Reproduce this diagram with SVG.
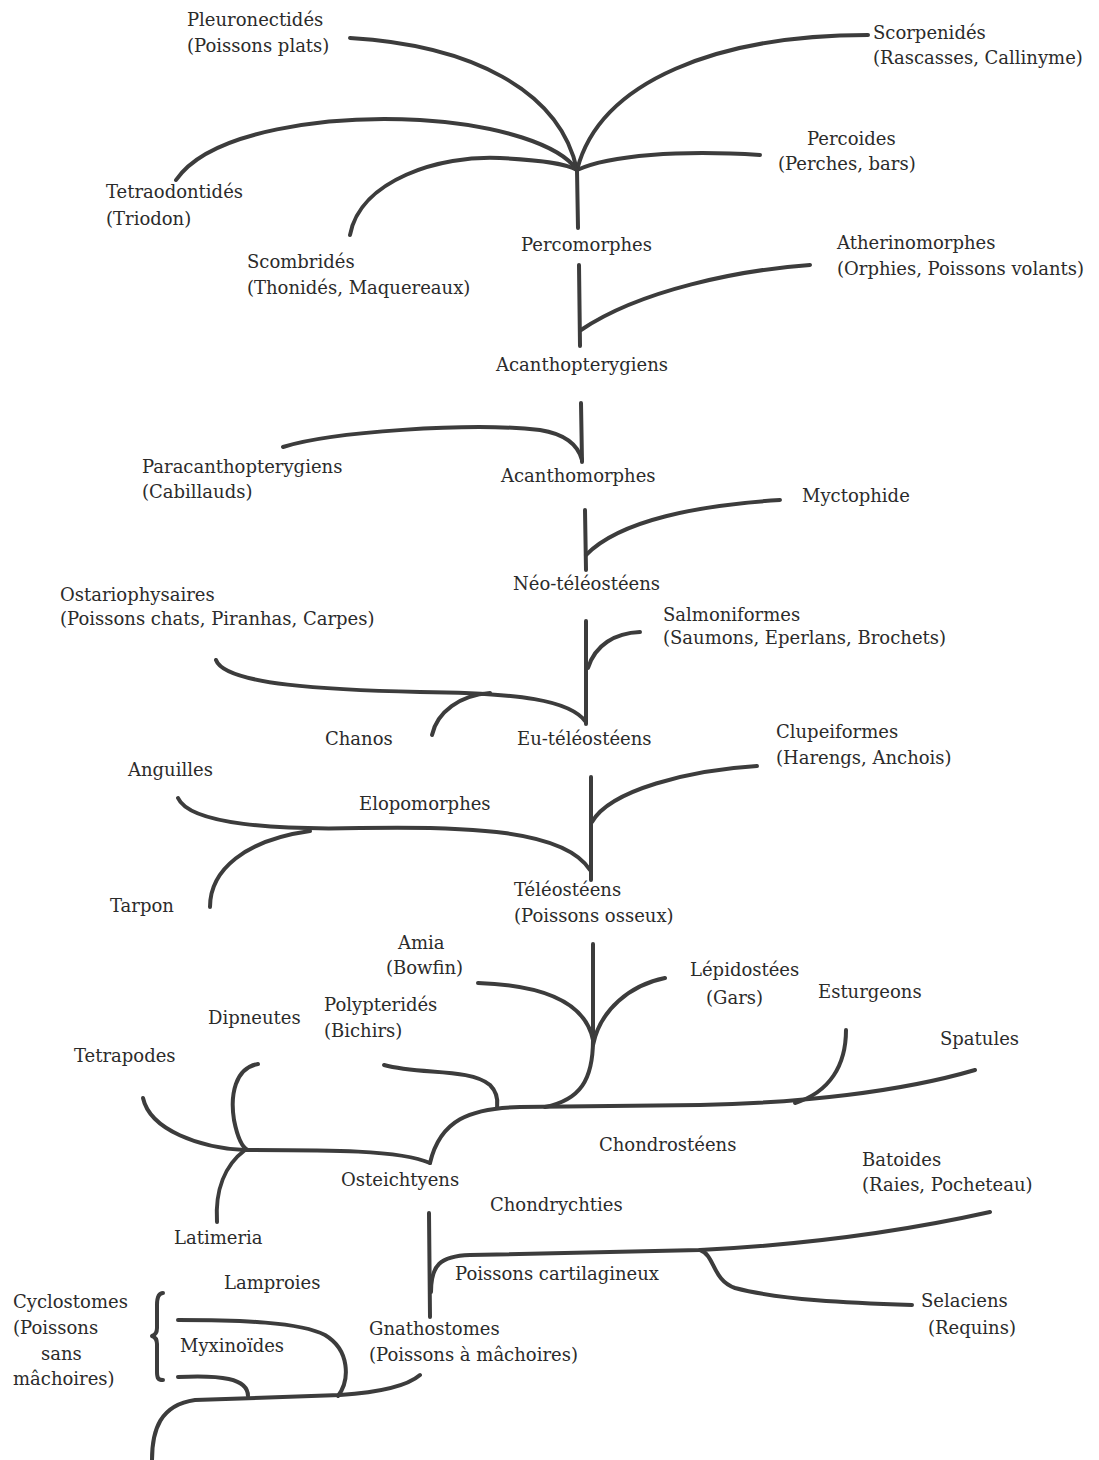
<svg xmlns="http://www.w3.org/2000/svg" width="1099" height="1460" viewBox="0 0 1099 1460">
<style>
text{font-family:"DejaVu Serif","Liberation Serif",serif;font-size:18px;fill:#2b2b2b}
.e{fill:none;stroke:#3c3c3c;stroke-width:4;stroke-linecap:round;stroke-linejoin:round}
</style>
<rect width="1099" height="1460" fill="#fff"/>
<g id="connectors">
<path class="e" d="M350,38 C470,45 560,90 577,170"/>
<path class="e" d="M577,170 C600,80 720,35 868,35"/>
<path class="e" d="M176,180 C210,130 330,115 420,120 C500,125 560,145 577,170"/>
<path class="e" d="M577,170 C610,155 680,150 760,155"/>
<path class="e" d="M350,235 C360,180 440,155 500,158 C540,160 565,163 577,170"/>
<path class="e" d="M577,170 L578,228"/>
<path class="e" d="M579,265 L580,346"/>
<path class="e" d="M581,330 C640,290 740,270 810,265"/>
<path class="e" d="M581,403 L582,462"/>
<path class="e" d="M283,447 C330,432 470,422 540,430 C565,434 578,445 582,460"/>
<path class="e" d="M585,510 L586,570"/>
<path class="e" d="M586,555 C620,520 700,505 780,500"/>
<path class="e" d="M586,621 L586,724"/>
<path class="e" d="M588,668 C595,645 615,633 640,632"/>
<path class="e" d="M216,660 C225,685 330,690 420,692 C520,693 570,700 586,722"/>
<path class="e" d="M432,735 C437,712 460,695 490,693"/>
<path class="e" d="M591,777 L591,880"/>
<path class="e" d="M592,822 C610,790 690,770 757,766"/>
<path class="e" d="M178,798 C190,825 280,830 360,828 C470,826 565,830 590,870"/>
<path class="e" d="M210,907 C210,870 245,840 310,831"/>
<path class="e" d="M593,944 L593,1040 C593,1080 580,1100 545,1107"/>
<path class="e" d="M478,983 C540,985 585,1000 593,1040"/>
<path class="e" d="M593,1045 C600,1010 630,985 665,978"/>
<path class="e" d="M430,1163 C440,1120 470,1108 520,1107 L700,1105 C800,1103 900,1092 975,1070"/>
<path class="e" d="M846,1030 C846,1065 830,1092 795,1103"/>
<path class="e" d="M384,1065 C420,1075 470,1068 490,1085 C500,1095 497,1105 497,1108"/>
<path class="e" d="M430,1163 C400,1150 330,1150 245,1150"/>
<path class="e" d="M143,1098 C150,1130 200,1148 245,1150"/>
<path class="e" d="M258,1064 C235,1068 230,1095 234,1120 C238,1140 243,1148 248,1150"/>
<path class="e" d="M245,1150 C225,1165 215,1190 217,1222"/>
<path class="e" d="M429,1213 L430,1317"/>
<path class="e" d="M431,1292 C431,1265 440,1256 470,1255 L700,1250 C800,1245 900,1232 990,1212"/>
<path class="e" d="M700,1250 C715,1255 712,1280 735,1288 C780,1300 850,1303 912,1305"/>
<path class="e" d="M163,1293 C158,1293 157,1298 157,1305 L157,1328 C157,1333 155,1335 152,1336 C155,1337 157,1339 157,1344 L157,1372 C157,1378 158,1380 163,1380"/>
<path class="e" d="M178,1320 C240,1320 300,1322 325,1335 C350,1350 350,1380 338,1396"/>
<path class="e" d="M178,1377 C220,1375 248,1378 248,1396"/>
<path class="e" d="M152,1460 C152,1430 160,1405 195,1400 L340,1395 C370,1393 405,1388 420,1375"/>
</g>
<g id="n-pleuronectides"><text x="187" y="26">Pleuronectidés</text><text x="187" y="52">(Poissons plats)</text></g>
<g id="n-scorpenides"><text x="873" y="39">Scorpenidés</text><text x="873" y="64">(Rascasses, Callinyme)</text></g>
<g id="n-percoides"><text x="807" y="145">Percoides</text><text x="778" y="170">(Perches, bars)</text></g>
<g id="n-tetraodontides"><text x="106" y="198">Tetraodontidés</text><text x="106" y="225">(Triodon)</text></g>
<g id="n-scombrides"><text x="247" y="268">Scombridés</text><text x="247" y="294">(Thonidés, Maquereaux)</text></g>
<g id="n-percomorphes"><text x="521" y="251">Percomorphes</text></g>
<g id="n-atherinomorphes"><text x="837" y="249">Atherinomorphes</text><text x="837" y="275">(Orphies, Poissons volants)</text></g>
<g id="n-acanthopterygiens"><text x="496" y="371">Acanthopterygiens</text></g>
<g id="n-paracanthopterygiens"><text x="142" y="473">Paracanthopterygiens</text><text x="142" y="498">(Cabillauds)</text></g>
<g id="n-acanthomorphes"><text x="501" y="482">Acanthomorphes</text></g>
<g id="n-myctophide"><text x="802" y="502">Myctophide</text></g>
<g id="n-neoteleosteens"><text x="513" y="590">Néo-téléostéens</text></g>
<g id="n-ostariophysaires"><text x="60" y="601">Ostariophysaires</text><text x="60" y="625">(Poissons chats, Piranhas, Carpes)</text></g>
<g id="n-salmoniformes"><text x="663" y="621">Salmoniformes</text><text x="663" y="644">(Saumons, Eperlans, Brochets)</text></g>
<g id="n-chanos"><text x="325" y="745">Chanos</text></g>
<g id="n-euteleosteens"><text x="517" y="745">Eu-téléostéens</text></g>
<g id="n-clupeiformes"><text x="776" y="738">Clupeiformes</text><text x="776" y="764">(Harengs, Anchois)</text></g>
<g id="n-anguilles"><text x="128" y="776">Anguilles</text></g>
<g id="n-elopomorphes"><text x="359" y="810">Elopomorphes</text></g>
<g id="n-teleosteens"><text x="514" y="896">Téléostéens</text><text x="514" y="922">(Poissons osseux)</text></g>
<g id="n-tarpon"><text x="110" y="912">Tarpon</text></g>
<g id="n-amia"><text x="398" y="949">Amia</text><text x="386" y="974">(Bowfin)</text></g>
<g id="n-lepidostees"><text x="690" y="976">Lépidostées</text><text x="706" y="1004">(Gars)</text></g>
<g id="n-esturgeons"><text x="818" y="998">Esturgeons</text></g>
<g id="n-dipneutes"><text x="208" y="1024">Dipneutes</text></g>
<g id="n-polypterides"><text x="324" y="1011">Polypteridés</text><text x="324" y="1037">(Bichirs)</text></g>
<g id="n-tetrapodes"><text x="74" y="1062">Tetrapodes</text></g>
<g id="n-spatules"><text x="940" y="1045">Spatules</text></g>
<g id="n-chondrosteens"><text x="599" y="1151">Chondrostéens</text></g>
<g id="n-batoides"><text x="862" y="1166">Batoides</text><text x="862" y="1191">(Raies, Pocheteau)</text></g>
<g id="n-osteichtyens"><text x="341" y="1186">Osteichtyens</text></g>
<g id="n-chondrychties"><text x="490" y="1211">Chondrychties</text></g>
<g id="n-latimeria"><text x="174" y="1244">Latimeria</text></g>
<g id="n-poissons-cartilagineux"><text x="455" y="1280">Poissons cartilagineux</text></g>
<g id="n-lamproies"><text x="224" y="1289">Lamproies</text></g>
<g id="n-cyclostomes"><text x="13" y="1308">Cyclostomes</text><text x="13" y="1334">(Poissons</text><text x="41" y="1360">sans</text><text x="13" y="1385">mâchoires)</text></g>
<g id="n-selaciens"><text x="921" y="1307">Selaciens</text><text x="928" y="1334">(Requins)</text></g>
<g id="n-myxinoides"><text x="180" y="1352">Myxinoïdes</text></g>
<g id="n-gnathostomes"><text x="369" y="1335">Gnathostomes</text><text x="369" y="1361">(Poissons à mâchoires)</text></g>
</svg>
